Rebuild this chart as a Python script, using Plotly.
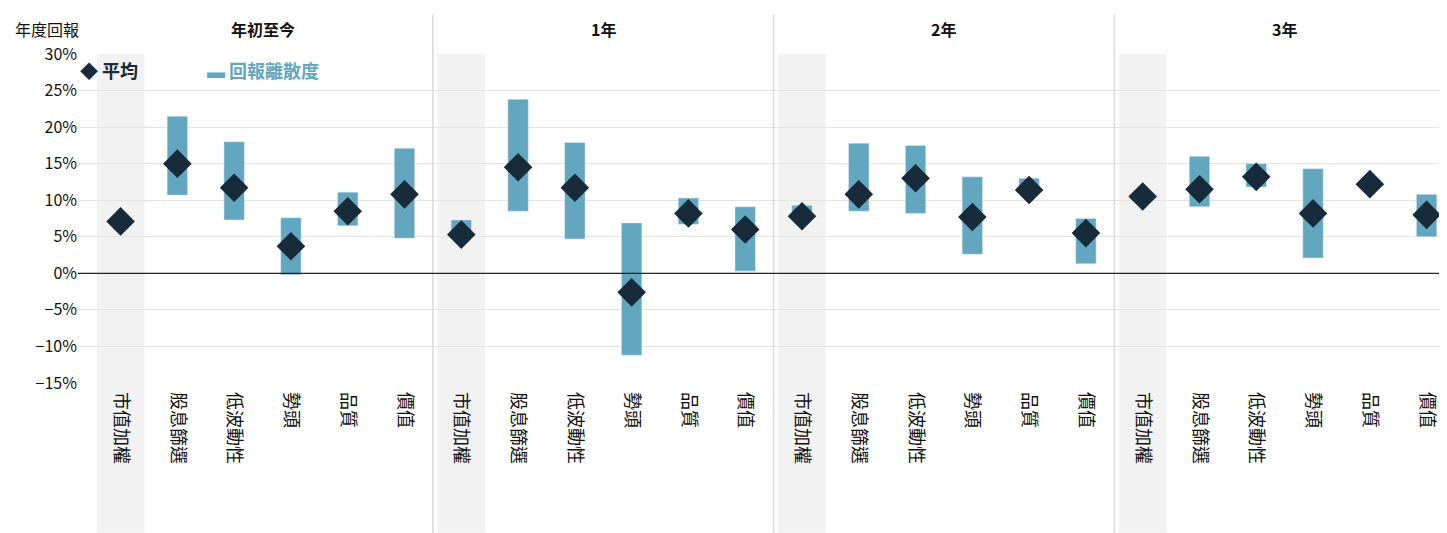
import plotly.graph_objects as go

groups = ["年初至今", "1年", "2年", "3年"]
cats = ["市值加權", "股息篩選", "低波動性", "勢頭", "品質", "價值"]

mean = [7.1, 15.0, 11.7, 3.7, 8.5, 10.8,
        5.3, 14.5, 11.7, -2.6, 8.2, 6.0,
        7.8, 10.8, 13.0, 7.7, 11.4, 5.5,
        10.5, 11.5, 13.2, 8.2, 12.2, 8.0]
high = [7.5, 21.5, 18.0, 7.6, 11.1, 17.1,
        7.3, 23.8, 17.9, 6.9, 10.3, 9.1,
        9.3, 17.8, 17.5, 13.2, 13.0, 7.5,
        10.6, 16.0, 15.0, 14.3, 12.5, 10.8]
low = [6.5, 10.7, 7.3, -0.2, 6.5, 4.8,
       5.0, 8.5, 4.7, -11.2, 6.7, 0.3,
       7.5, 8.5, 8.2, 2.6, 11.0, 1.3,
       10.4, 9.1, 11.8, 2.1, 12.0, 5.0]

xs = [g * 6 + i for g in range(len(groups)) for i in range(len(cats))]
labels = cats * len(groups)
font = "Noto Sans CJK TC"

fig = go.Figure()
fig.add_trace(go.Bar(x=xs, y=[h - l for h, l in zip(high, low)], base=low,
                     width=0.36, marker_color="#62a6bf", hoverinfo="skip"))
fig.add_trace(go.Scatter(x=xs, y=mean, mode="markers",
                         marker=dict(symbol="diamond", size=22, color="#172b3a")))

shapes = []
for g in range(len(groups)):
    c = g * 6
    shapes.append(dict(type="rect", xref="x", yref="paper", x0=c - 0.42, x1=c + 0.42,
                       y0=-0.455, y1=1.0, fillcolor="#f2f2f2", line_width=0, layer="below"))
    if g > 0:
        shapes.append(dict(type="line", xref="x", yref="paper", x0=c - 0.5, x1=c - 0.5,
                           y0=-0.455, y1=1.12, line=dict(color="#d9d9d9", width=1.5)))
shapes.append(dict(type="line", xref="paper", yref="y", x0=0, x1=1, y0=0, y1=0,
                   line=dict(color="#222", width=1.2)))

ann = [dict(text="<b>%s</b>" % g, x=i * 6 + 2.5, y=1.075, xref="x", yref="paper",
            yanchor="middle", showarrow=False, font=dict(size=16, color="#111"))
       for i, g in enumerate(groups)]
ann.append(dict(text="年度回報", x=-0.047, y=1.12, xref="paper", yref="paper",
                xanchor="left", showarrow=False, font=dict(size=16, color="#111")))
ann.append(dict(text="◆ <b>平均</b>", x=0.0, y=0.95, xref="paper", yref="paper",
                xanchor="left", yanchor="middle", showarrow=False,
                font=dict(size=18, color="#172b3a")))
ann.append(dict(text="▬ <b>回報離散度</b>", x=0.092, y=0.95,
                xref="paper", yref="paper", xanchor="left", yanchor="middle", showarrow=False,
                font=dict(size=18, color="#62a6bf")))

fig.update_layout(
    width=1447, height=533, margin=dict(l=70, r=0, t=46, b=158),
    plot_bgcolor="white", paper_bgcolor="white", showlegend=False,
    font=dict(family=font, size=16, color="#111"),
    shapes=shapes, annotations=ann,
    xaxis=dict(range=[-0.75, 23.5], tickvals=xs, ticktext=labels, tickangle=90,
               showgrid=False, zeroline=False, ticks="", tickfont=dict(size=18),
               ticklabelstandoff=8, automargin=False),
    yaxis=dict(range=[-15, 30], dtick=5, ticksuffix="%", gridcolor="#e3e3e3",
               zeroline=False, tickfont=dict(size=16), automargin=False),
)
fig.write_html("out.html")
